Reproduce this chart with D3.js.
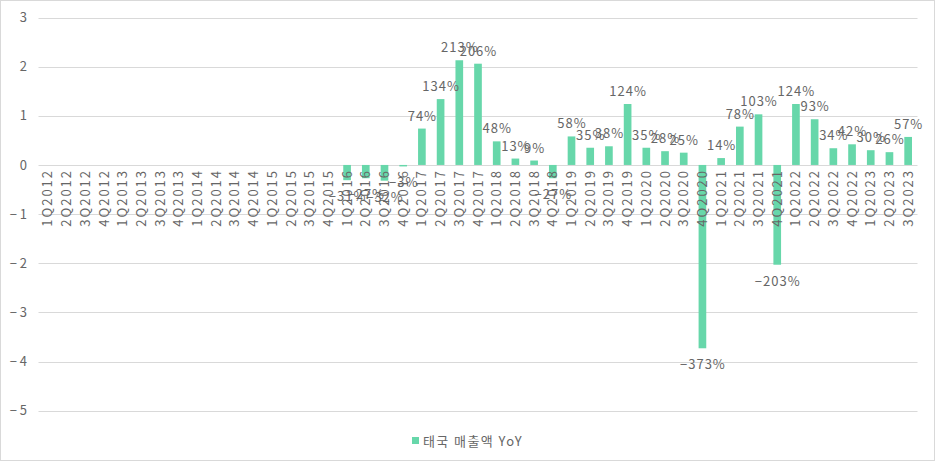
<!DOCTYPE html>
<html><head><meta charset="utf-8">
<script src="https://cdn.jsdelivr.net/npm/d3@7"></script>
<style>
html,body{margin:0;padding:0;background:#fff;}
svg{display:block;font-family:"Noto Sans CJK KR","Noto Sans",sans-serif;}
</style></head>
<body><svg id="c" width="936" height="462"></svg>
<script>
const categories = ["1Q2012","2Q2012","3Q2012","4Q2012","1Q2013","2Q2013","3Q2013","4Q2013","1Q2014","2Q2014","3Q2014","4Q2014","1Q2015","2Q2015","3Q2015","4Q2015","1Q2016","2Q2016","3Q2016","4Q2016","1Q2017","2Q2017","3Q2017","4Q2017","1Q2018","2Q2018","3Q2018","4Q2018","1Q2019","2Q2019","3Q2019","4Q2019","1Q2020","2Q2020","3Q2020","4Q2020","1Q2021","2Q2021","3Q2021","4Q2021","1Q2022","2Q2022","3Q2022","4Q2022","1Q2023","2Q2023","3Q2023"];
const yoy = [null,null,null,null,null,null,null,null,null,null,null,null,null,null,null,null,-0.31,-0.27,-0.32,-0.03,0.74,1.34,2.13,2.06,0.48,0.13,0.09,-0.27,0.58,0.35,0.38,1.24,0.35,0.28,0.25,-3.73,0.14,0.78,1.03,-2.03,1.24,0.93,0.34,0.42,0.30,0.26,0.57];
const yTicks = [3,2,1,0,-1,-2,-3,-4,-5];
const seriesName = "태국 매출액 YoY";

const svg = d3.select("#c");
const W = 936, H = 462;
const color = "#67D7AA", textColor = "#666666", gridColor = "#D9D9D9";

svg.append("rect").attr("x",0.5).attr("y",0.5).attr("width",W-2).attr("height",H-2)
  .attr("fill","#fff").attr("stroke","#D9D9D9");

const x = d3.scaleBand().domain(categories).range([38.5, 917.5]).paddingInner(0.59).paddingOuter(0.295);
const y = d3.scaleLinear().domain([-5,3]).range([410.7, 17.5]);

// grid
svg.append("g").selectAll("line").data(yTicks).join("line")
  .attr("x1",38.5).attr("x2",917.5)
  .attr("y1",d=>Math.round(y(d))+0.5).attr("y2",d=>Math.round(y(d))+0.5)
  .attr("stroke",gridColor).attr("stroke-width",1);

// y labels
const fmtY = d => d < 0 ? "\u2212 " + Math.abs(d) : String(d);
svg.append("g").selectAll("text").data(yTicks).join("text")
  .attr("x",27).attr("y",d=>y(d)).attr("dy","0.35em")
  .attr("text-anchor","end").attr("fill",textColor).attr("font-size",13)
  .text(fmtY);

// bars
const data = categories.map((c,i)=>({c, v: yoy[i]})).filter(d=>d.v!==null);
svg.append("g").selectAll("rect").data(data).join("rect")
  .attr("x",d=>x(d.c)).attr("width",x.bandwidth())
  .attr("y",d=>y(Math.max(0,d.v))).attr("height",d=>Math.abs(y(d.v)-y(0)))
  .attr("fill",color);

// x labels (rotated)
svg.append("g").selectAll("text").data(categories).join("text")
  .attr("transform",d=>`translate(${x(d)+x.bandwidth()/2},${y(0)+4}) rotate(-90)`)
  .attr("text-anchor","end").attr("dy","0.35em")
  .attr("fill",textColor).attr("font-size",13).attr("letter-spacing",2)
  .text(d=>d);

// data labels
const fmtP = v => (v<0?"\u2212":"") + Math.round(Math.abs(v)*100) + "%";
svg.append("g").selectAll("text").data(data).join("text")
  .attr("x",d=>x(d.c)+x.bandwidth()/2+0.5)
  .attr("y",d=> d.v>=0 ? y(d.v)-8 : y(d.v)+21)
  .attr("text-anchor","middle").attr("fill",textColor).attr("font-size",13).attr("letter-spacing",1)
  .text(d=>fmtP(d.v));

// legend
const lg = svg.append("g").attr("transform","translate(412,441)");
lg.append("rect").attr("x",0).attr("y",-4).attr("width",7).attr("height",7).attr("fill",color);
lg.append("text").attr("x",11).attr("y",0).attr("dy","0.35em").attr("fill",textColor).attr("font-size",13).attr("letter-spacing",1.4).text(seriesName);
</script></body></html>
